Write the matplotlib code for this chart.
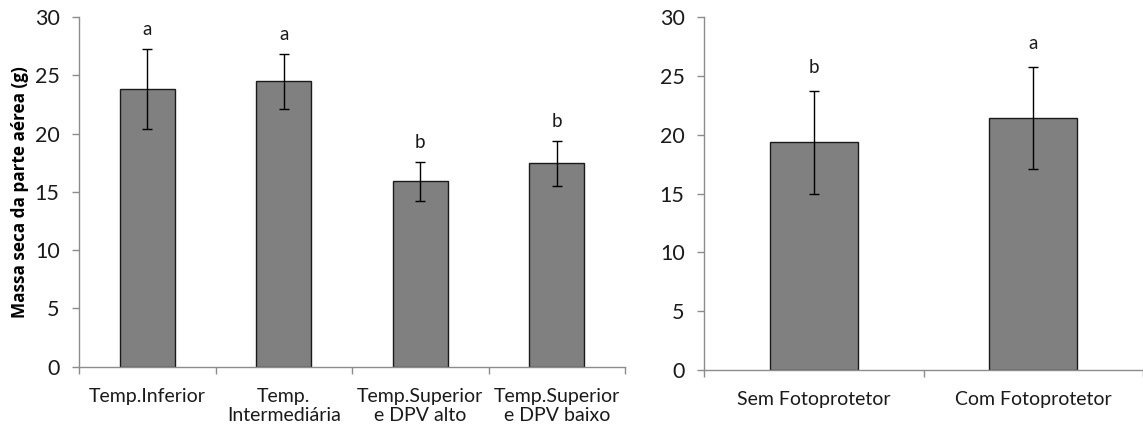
import matplotlib
matplotlib.use("Agg")
import matplotlib.pyplot as plt
import numpy as np

plt.rcParams['font.family'] = ['Lato', 'DejaVu Sans']

# Left panel data
cats_left = ["Temp.Inferior", "Temp.\nIntermediária", "Temp.Superior\ne DPV alto", "Temp.Superior\ne DPV baixo"]
vals_left = [23.8, 24.5, 15.9, 17.45]
err_left = [3.43, 2.35, 1.7, 1.95]
letters_left = ["a", "a", "b", "b"]

# Right panel data
cats_right = ["Sem Fotoprotetor", "Com Fotoprotetor"]
vals_right = [19.35, 21.4]
err_right = [4.38, 4.36]
letters_right = ["b", "a"]

ylabel = "Massa seca da parte aérea (g)"
yticks = [0, 5, 10, 15, 20, 25, 30]

W, H = 1143, 430
fig = plt.figure(figsize=(W / 100, H / 100), dpi=100)

axL = fig.add_axes([79 / W, (H - 366.7) / H, 546 / W, 349.7 / H])
axR = fig.add_axes([704 / W, (H - 370) / H, 439 / W, 353 / H])

spine_col = "#8c8c8c"

def style(ax, cats, vals, errs, letters, letter_off):
    n = len(cats)
    x = np.arange(n)
    ax.bar(x, vals, width=0.4, color="#808080", edgecolor="#1a1a1a", linewidth=1.0, zorder=2)
    ax.errorbar(x, vals, yerr=errs, fmt="none", ecolor="black", elinewidth=1.0,
                capsize=3.3, capthick=1.0, zorder=3)
    for xi, v, e, l in zip(x, vals, errs, letters):
        ax.annotate(l, (xi, v + e), xytext=(0, letter_off), textcoords="offset points",
                    ha="center", va="center", fontsize=13.5, color="#1a1a1a")
    ax.set_xlim(-0.5, n - 0.5)
    ax.set_ylim(0, 30)
    ax.set_yticks(yticks)
    ax.set_xticks(x)
    ax.set_xticklabels(cats, fontsize=14, color="#1a1a1a", linespacing=1.15)
    ax.tick_params(axis="x", length=0, pad=15)
    ax.set_xticks(np.arange(n + 1) - 0.5, minor=True)
    ax.tick_params(axis="x", which="minor", length=5, color=spine_col, width=1)
    ax.tick_params(axis="y", length=5, color=spine_col, width=1, labelsize=15.5,
                   labelcolor="#1a1a1a", pad=9)
    for s in ["top", "right"]:
        ax.spines[s].set_visible(False)
    for s in ["left", "bottom"]:
        ax.spines[s].set_color(spine_col)
        ax.spines[s].set_linewidth(1)

style(axL, cats_left, vals_left, err_left, letters_left, 14)
style(axR, cats_right, vals_right, err_right, letters_right, 17)

axL.set_ylabel(ylabel, fontsize=12.3, fontweight="bold", color="black", labelpad=4,
               family=["Open Sans", "DejaVu Sans"])

fig.savefig("out.png", dpi=100)
